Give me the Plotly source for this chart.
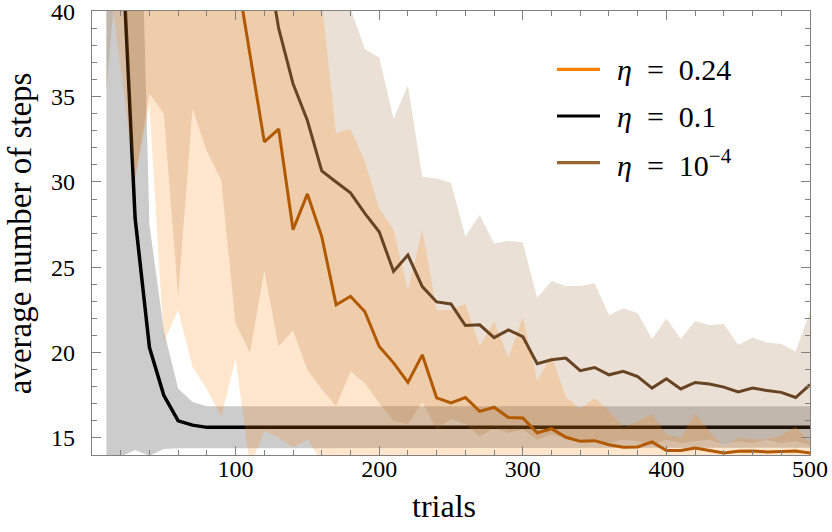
import plotly.graph_objects as go

# ---------------- data ----------------
trials = [10, 20, 30, 40, 50, 60, 70, 80, 90, 100,
          110, 120, 130, 140, 150, 160, 170, 180, 190, 200,
          210, 220, 230, 240, 250, 260, 270, 280, 290, 300,
          310, 320, 330, 340, 350, 360, 370, 380, 390, 400,
          410, 420, 430, 440, 450, 460, 470, 480, 490, 500]

# eta = 0.24
orange_mean = [120, 100, 85, 75, 66, 58, 52, 48, 45, 42.6,
               37.5, 32.35, 33.1, 27.2, 29.3, 26.8, 22.8, 23.3, 22.4, 20.36,
               19.4, 18.25, 19.87, 17.35, 17.05, 17.37, 16.56, 16.8, 16.2, 16.17,
               15.3, 15.54, 15.04, 14.8, 14.84, 14.6, 14.45, 14.47, 14.77, 14.26,
               14.26, 14.41, 14.26, 14.12, 14.22, 14.24, 14.18, 14.22, 14.24, 14.12]
orange_upper = [180, 160, 140, 125, 110, 100, 90, 80, 75, 70,
                64, 58, 54, 50, 45, 40.5, 32.85, 33.1, 31.2, 28.45,
                27.2, 23.67, 27.2, 22.5, 22.5, 22.85, 20.4, 21.85, 19.7, 22.1,
                18.35, 19.8, 17.4, 16.7, 17.34, 16.6, 15.62, 15.97, 16.4, 15.2,
                15.0, 16.46, 15.39, 14.5, 15.0, 14.92, 14.92, 15.15, 15.68, 14.7]
orange_lower = [43.1, 36.7, 30.2, 34.5, 20.65, 22.5, 19.15, 17.85, 16.26, 19.65,
                13.3, 15.4, 15.0, 14.45, 14.9, 13.6, 13.4, 13.5, 13.3, 13.6,
                13.5, 13.4, 13.6, 13.3, 13.5, 13.4, 13.6, 13.5, 13.3, 13.5,
                13.4, 13.6, 13.5, 13.3, 13.4, 13.5, 13.6, 13.4, 13.5, 13.3,
                13.5, 13.4, 13.6, 13.3, 13.5, 13.4, 13.5, 13.6, 13.4, 13.5]

# eta = 0.1
black_mean = [75, 45.7, 27.9, 20.3, 17.5, 16.0, 15.75, 15.62, 15.62, 15.62,
              15.62, 15.62, 15.62, 15.62, 15.62, 15.62, 15.62, 15.62, 15.62, 15.62,
              15.62, 15.62, 15.62, 15.62, 15.62, 15.62, 15.62, 15.62, 15.62, 15.62,
              15.62, 15.62, 15.62, 15.62, 15.62, 15.62, 15.62, 15.62, 15.62, 15.62,
              15.62, 15.62, 15.62, 15.62, 15.62, 15.62, 15.62, 15.62, 15.62, 15.62]
black_upper = [100, 80, 60, 27.5, 21.3, 17.9, 17.1, 16.85, 16.85, 16.85,
               16.85, 16.85, 16.85, 16.85, 16.85, 16.85, 16.85, 16.85, 16.85, 16.85,
               16.85, 16.85, 16.85, 16.85, 16.85, 16.85, 16.85, 16.85, 16.85, 16.85,
               16.85, 16.85, 16.85, 16.85, 16.85, 16.85, 16.85, 16.85, 16.85, 16.85,
               16.85, 16.85, 16.85, 16.85, 16.85, 16.85, 16.85, 16.85, 16.85, 16.85]
black_lower = [5, 13.9, 14.3, 13.95, 14.35, 14.4, 14.42, 14.42, 14.42, 14.42,
               14.42, 14.42, 14.42, 14.42, 14.42, 14.42, 14.42, 14.42, 14.42, 14.42,
               14.42, 14.42, 14.42, 14.42, 14.42, 14.42, 14.42, 14.42, 14.42, 14.42,
               14.42, 14.42, 14.42, 14.42, 14.42, 14.42, 14.42, 14.42, 14.42, 14.42,
               14.42, 14.42, 14.42, 14.42, 14.42, 14.42, 14.42, 14.42, 14.42, 14.42]

# eta = 1e-4
brown_mean = [110, 95, 85, 75, 68, 62, 58, 54, 51, 49,
              46.5, 44, 39.0, 35.76, 33.6, 30.65, 30.0, 29.36, 28.16, 27.08,
              24.76, 25.72, 23.87, 22.97, 22.85, 21.59, 21.63, 20.88, 21.33, 20.94,
              19.35, 19.58, 19.68, 18.94, 19.13, 18.7, 18.9, 18.6, 17.92, 18.47,
              17.87, 18.25, 18.16, 17.98, 17.69, 17.92, 17.78, 17.67, 17.37, 18.12]
brown_upper = [200, 180, 160, 140, 125, 115, 105, 95, 88, 82,
               76, 70, 64, 58, 53, 48, 44, 40.2, 37.8, 37.3,
               33.7, 35.66, 30.3, 30.2, 29.95, 26.8, 28.06, 26.4, 26.55, 26.45,
               23.2, 24.2, 23.9, 23.9, 24.06, 22.2, 22.6, 22.3, 20.8, 22.0,
               20.8, 21.86, 21.6, 21.68, 20.46, 20.88, 20.6, 20.5, 20.06, 22.4]
brown_lower = [35.4, 44.9, 30.2, 35.2, 34.0, 23.3, 34.3, 31.8, 30.1, 21.7,
               20.0, 24.8, 20.36, 21.3, 19.0, 17.85, 16.85, 18.9, 18.2, 17.05,
               16.0, 15.8, 17.1, 15.5, 16.1, 15.8, 15.1, 15.6, 15.3, 15.5,
               14.9, 15.2, 15.0, 14.8, 14.9, 14.7, 14.9, 14.8, 14.6, 14.9,
               14.7, 14.8, 14.9, 14.6, 14.8, 14.7, 14.9, 14.7, 14.8, 14.6]

legend_labels = ["<i>η</i>&nbsp;&nbsp;=&nbsp;&nbsp;0.24",
                 "<i>η</i>&nbsp;&nbsp;=&nbsp;&nbsp;0.1",
                 "<i>η</i>&nbsp;&nbsp;=&nbsp;&nbsp;10<sup>−4</sup>"]
x_ticks = [100, 200, 300, 400, 500]
y_ticks = [15, 20, 25, 30, 35, 40]
x_title = "trials"
y_title = "average number of steps"

# ---------------- styling ----------------
ORANGE = "rgb(255,128,0)"
BLACK = "rgb(0,0,0)"
BROWN = "rgb(153,102,51)"
ORANGE_DARK = "rgb(178,89,0)"
BROWN_DARK = "rgb(104,68,34)"
FONT = "Liberation Serif, DejaVu Serif, serif"


def band(upper, lower, color):
    return go.Scatter(x=trials + trials[::-1], y=upper + lower[::-1],
                      fill="toself", fillcolor=color, mode="lines",
                      line=dict(width=0), hoverinfo="skip", showlegend=False)


fig = go.Figure()
fig.add_trace(band(black_upper, black_lower, "rgba(0,0,0,0.2)"))
fig.add_trace(go.Scatter(x=trials, y=black_mean, mode="lines",
                         line=dict(color=BLACK, width=3.5), showlegend=False))
fig.add_trace(band(brown_upper, brown_lower, "rgba(153,102,51,0.2)"))
fig.add_trace(band(orange_upper, orange_lower, "rgba(255,128,0,0.2)"))
fig.add_trace(go.Scatter(x=trials, y=brown_mean, mode="lines",
                         line=dict(color=BROWN_DARK, width=3), showlegend=False))
fig.add_trace(go.Scatter(x=trials, y=orange_mean, mode="lines",
                         line=dict(color=ORANGE_DARK, width=3), showlegend=False))

# manual legend
leg_colors = [ORANGE, BLACK, BROWN]
leg_y = [0.8687, 0.7635, 0.6583]
shapes = []
annotations = []
for lab, col, yy in zip(legend_labels, leg_colors, leg_y):
    shapes.append(dict(type="line", xref="paper", yref="paper",
                       x0=0.6476, x1=0.7075, y0=yy, y1=yy,
                       line=dict(color=col, width=3.2)))
    annotations.append(dict(xref="paper", yref="paper", x=0.728, y=yy,
                            xanchor="left", yanchor="middle", showarrow=False,
                            text=lab, font=dict(family=FONT, size=30, color="black")))

# axis titles
annotations.append(dict(xref="paper", yref="paper", x=0.49, y=-0.1149,
                        xanchor="center", yanchor="middle", showarrow=False,
                        text=x_title, font=dict(family=FONT, size=32, color="black")))
annotations.append(dict(xref="paper", yref="paper", x=-0.1, y=0.5,
                        xanchor="center", yanchor="middle", showarrow=False,
                        textangle=-90,
                        text=y_title, font=dict(family=FONT, size=33, color="black")))

axis_common = dict(showline=True, linecolor="#808080", linewidth=1.2,
                   mirror="ticks", ticks="inside", ticklen=9, tickwidth=1,
                   tickcolor="#808080", showgrid=False, zeroline=False,
                   ticklabeloverflow="allow", automargin=False,
                   tickfont=dict(family=FONT, size=24, color="black"))

fig.update_layout(
    width=832, height=532,
    margin=dict(l=92, r=22, t=11, b=77, autoexpand=False),
    paper_bgcolor="white", plot_bgcolor="white",
    font=dict(family=FONT, color="black"),
    shapes=shapes, annotations=annotations,
    xaxis=dict(range=[0, 500], tickvals=x_ticks, ticklabelstandoff=-8,
               minor=dict(dtick=20, ticks="inside", ticklen=5, tickcolor="#808080"),
               **axis_common),
    yaxis=dict(range=[14, 40.02], tickvals=y_ticks, ticklabelstandoff=11,
               minor=dict(dtick=1, ticks="inside", ticklen=5, tickcolor="#808080"),
               **axis_common),
)

fig.write_html("out.html",
               config={"displayModeBar": False, "staticPlot": True},
               post_script="document.body.style.margin='0';document.body.style.overflow='hidden';")
